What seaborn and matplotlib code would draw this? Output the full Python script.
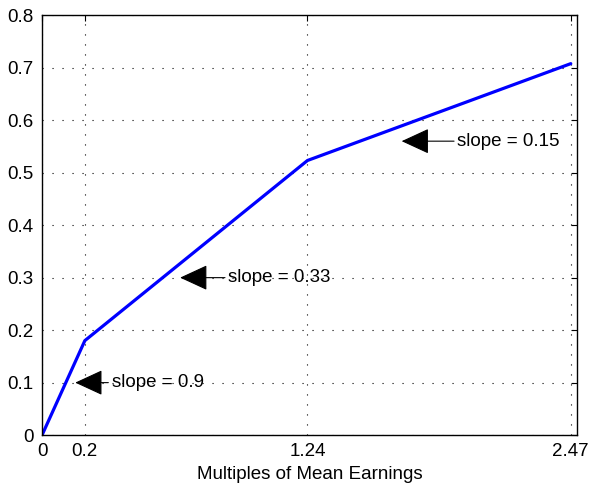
import matplotlib
matplotlib.use("Agg")
import matplotlib.pyplot as plt
import seaborn as sns
import pandas as pd

# Data
earnings = [0.0, 0.2, 1.24, 2.47]
benefit = [0.0, 0.18, 0.5232, 0.7077]
x_ticks = [0, 0.2, 1.24, 2.47]
x_tick_labels = ["0", "0.2", "1.24", "2.47"]
y_ticks = [0, 0.1, 0.2, 0.3, 0.4, 0.5, 0.6, 0.7, 0.8]
slope_labels = ["slope = 0.9", "slope = 0.33", "slope = 0.15"]
arrow_tips = [(0.155, 0.1), (0.645, 0.3), (1.68, 0.56)]
text_pos = [(0.325, 0.1), (0.87, 0.3), (1.94, 0.56)]

sns.set_style("white")
plt.rcParams['font.family'] = ['Liberation Sans', 'DejaVu Sans']
plt.rcParams['text.color'] = 'black'
plt.rcParams['axes.labelcolor'] = 'black'
plt.rcParams['xtick.color'] = 'black'
plt.rcParams['ytick.color'] = 'black'

fig = plt.figure(figsize=(5.92, 4.9), dpi=100)
ax = fig.add_axes([0.071, 0.112, 0.904, 0.857])

df = pd.DataFrame({"x": earnings, "y": benefit})
sns.lineplot(data=df, x="x", y="y", ax=ax, color="#0000ff", linewidth=2.3, sort=False)

ax.set_xlim(0, 2.5)
ax.set_ylim(0, 0.8)
ax.set_xticks(x_ticks)
ax.set_xticklabels(x_tick_labels)
ax.set_yticks(y_ticks)
ax.set_yticklabels([f"{v:g}" for v in y_ticks])
ax.set_xlabel("Multiples of Mean Earnings", fontsize=13.5, labelpad=4, color="black")
ax.set_ylabel("")
ax.tick_params(direction="in", length=4, labelsize=13.5, top=True, right=True,
               color="black", labelcolor="black", width=0.8)
ax.tick_params(axis="x", pad=6)
ax.tick_params(axis="y", pad=6)
ax.grid(True, linestyle=(0, (1, 8)), color="black", linewidth=0.8)
for s in ax.spines.values():
    s.set_color("black")
    s.set_linewidth(1.0)

for lab, tip, tp in zip(slope_labels, arrow_tips, text_pos):
    ax.annotate(lab, xy=tip, xytext=tp, fontsize=13.5, va="center", ha="left",
                color="black",
                arrowprops=dict(arrowstyle="-|>,head_length=1.3,head_width=0.6",
                                color="black", lw=0.8, shrinkA=0, shrinkB=0))

fig.savefig("out.png", dpi=100)
